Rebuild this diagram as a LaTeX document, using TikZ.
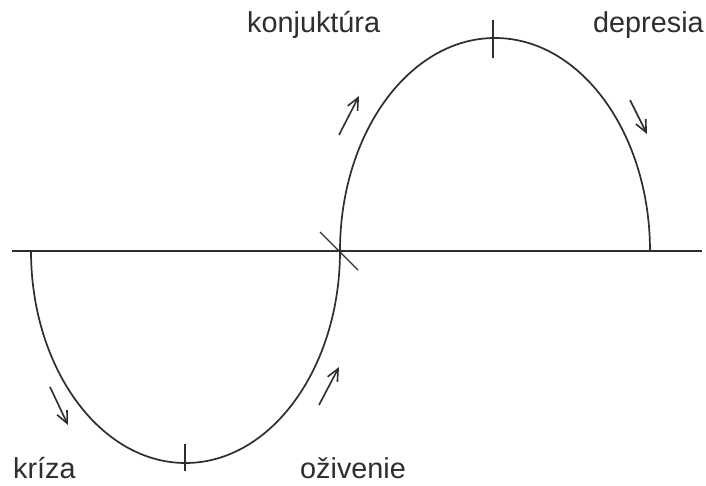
\documentclass[tikz,border=0pt]{standalone}
\usepackage{fontspec}
\setmainfont{Liberation Sans}
\usetikzlibrary{arrows.meta}
\definecolor{ink}{HTML}{2E2E2E}
\begin{document}
\begin{tikzpicture}[x=1pt,y=-1pt,
  curve/.style={draw=ink,line width=1.7pt},
  tick/.style={draw=ink,line width=1.3pt},
  flow/.style={draw=ink,line width=1.6pt,-{Straight Barb[length=12pt,width=11pt]}},
  lbl/.style={anchor=base west,inner sep=0pt,text=ink,font=\fontsize{28.8}{30}\selectfont}]
\useasboundingbox[fill=white] (0,0) rectangle (706,486);
% axis
\coordinate (axL) at (12,251);
\coordinate (axR) at (702,251);
\draw[curve,line width=1.5pt] (axL) -- (axR);
% curves
\coordinate (s0) at (31,251);
\coordinate (s1) at (340,251);
\draw[curve] (s0) arc[start angle=180,end angle=0,x radius=154.5,y radius=212];
\draw[curve] (s1) arc[start angle=180,end angle=360,x radius=155,y radius=213];
% ticks
\draw[tick] (185,444) -- (185,471);
\draw[tick] (493,20) -- (493,58);
\draw[tick] (320,232) -- (358,270);
% arrows
\draw[flow] (50,387) -- (68,425);
\draw[flow] (319,405) -- (339,367);
\draw[flow] (339,135) -- (359,96);
\draw[flow] (630,100) -- (647,134);
% labels
\node[lbl] (konj) at (247,33) {konjuktúra};
\node[lbl] (depr) at (593,33) {depresia};
\node[lbl] (kriza) at (13,478) {kríza};
\node[lbl] (oziv) at (300,478) {oživenie};
\end{tikzpicture}
\end{document}
